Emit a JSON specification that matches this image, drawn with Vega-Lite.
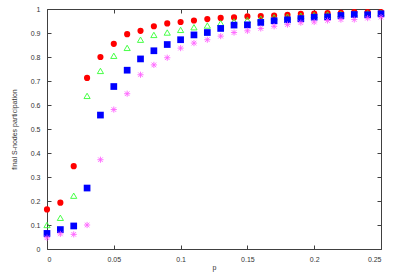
{
  "$schema": "https://vega.github.io/schema/vega-lite/v6.json",
  "width": 334,
  "height": 240,
  "autosize": "none",
  "padding": {"left": 47, "top": 9, "right": 12, "bottom": 26},
  "background": "white",
  "config": {
    "view": {"stroke": "#404040", "strokeWidth": 1},
    "axis": {
      "grid": false,
      "domain": false,
      "tickColor": "#404040",
      "tickSize": -4,
      "labelFont": "Liberation Sans",
      "labelFontSize": 7,
      "labelColor": "#333333",
      "titleFont": "Liberation Sans",
      "titleFontSize": 7,
      "titleFontWeight": "normal",
      "titleColor": "#333333"
    }
  },
  "data": {
    "values": [
      {"p": 0.00, "r": 0.165, "g": 0.100, "b": 0.065, "m": 0.047},
      {"p": 0.01, "r": 0.193, "g": 0.130, "b": 0.081, "m": 0.063},
      {"p": 0.02, "r": 0.345, "g": 0.222, "b": 0.096, "m": 0.061},
      {"p": 0.03, "r": 0.713, "g": 0.638, "b": 0.254, "m": 0.100},
      {"p": 0.04, "r": 0.800, "g": 0.742, "b": 0.558, "m": 0.372},
      {"p": 0.05, "r": 0.855, "g": 0.805, "b": 0.677, "m": 0.581},
      {"p": 0.06, "r": 0.895, "g": 0.838, "b": 0.745, "m": 0.647},
      {"p": 0.07, "r": 0.909, "g": 0.872, "b": 0.792, "m": 0.726},
      {"p": 0.08, "r": 0.928, "g": 0.892, "b": 0.826, "m": 0.767},
      {"p": 0.09, "r": 0.940, "g": 0.902, "b": 0.852, "m": 0.797},
      {"p": 0.10, "r": 0.946, "g": 0.913, "b": 0.872, "m": 0.837},
      {"p": 0.11, "r": 0.952, "g": 0.924, "b": 0.892, "m": 0.858},
      {"p": 0.12, "r": 0.958, "g": 0.931, "b": 0.902, "m": 0.872},
      {"p": 0.13, "r": 0.963, "g": 0.941, "b": 0.919, "m": 0.887},
      {"p": 0.14, "r": 0.965, "g": 0.948, "b": 0.933, "m": 0.902},
      {"p": 0.15, "r": 0.969, "g": 0.954, "b": 0.934, "m": 0.909},
      {"p": 0.16, "r": 0.971, "g": 0.960, "b": 0.944, "m": 0.919},
      {"p": 0.17, "r": 0.973, "g": 0.965, "b": 0.951, "m": 0.928},
      {"p": 0.18, "r": 0.976, "g": 0.968, "b": 0.955, "m": 0.935},
      {"p": 0.19, "r": 0.980, "g": 0.972, "b": 0.960, "m": 0.943},
      {"p": 0.20, "r": 0.981, "g": 0.975, "b": 0.966, "m": 0.946},
      {"p": 0.21, "r": 0.983, "g": 0.977, "b": 0.967, "m": 0.952},
      {"p": 0.22, "r": 0.984, "g": 0.979, "b": 0.973, "m": 0.956},
      {"p": 0.23, "r": 0.987, "g": 0.981, "b": 0.977, "m": 0.956},
      {"p": 0.24, "r": 0.987, "g": 0.982, "b": 0.976, "m": 0.962},
      {"p": 0.25, "r": 0.987, "g": 0.984, "b": 0.980, "m": 0.966}
    ]
  },
  "resolve": {"axis": {"x": "independent", "y": "independent"}},
  "layer": [
    {
      "mark": {"type": "point", "shape": "circle", "filled": true, "color": "#ff0000", "size": 38, "opacity": 1},
      "encoding": {
        "x": {"field": "p", "type": "quantitative", "scale": {"domain": [0, 0.25], "nice": false},
              "axis": {"orient": "bottom", "values": [0, 0.05, 0.1, 0.15, 0.2, 0.25], "format": "~g", "title": "p", "labelPadding": 10, "titlePadding": 1}},
        "y": {"field": "r", "type": "quantitative", "scale": {"domain": [0, 1], "nice": false, "zero": true},
              "axis": {"orient": "left", "values": [0, 0.1, 0.2, 0.3, 0.4, 0.5, 0.6, 0.7, 0.8, 0.9, 1], "format": "~g", "title": "final S-nodes participation", "labelPadding": 11, "titlePadding": 13}}
      }
    },
    {
      "mark": {"type": "point", "shape": "triangle-up", "filled": false, "color": "#33ff33", "size": 38, "strokeWidth": 0.9, "opacity": 1},
      "encoding": {
        "x": {"field": "p", "type": "quantitative",
              "axis": {"orient": "top", "values": [0, 0.05, 0.1, 0.15, 0.2, 0.25], "labels": false, "title": null}},
        "y": {"field": "g", "type": "quantitative",
              "axis": {"orient": "right", "values": [0, 0.1, 0.2, 0.3, 0.4, 0.5, 0.6, 0.7, 0.8, 0.9, 1], "labels": false, "title": null}}
      }
    },
    {
      "mark": {"type": "point", "shape": "square", "filled": true, "color": "#0000ff", "size": 45, "opacity": 1},
      "encoding": {
        "x": {"field": "p", "type": "quantitative", "axis": null},
        "y": {"field": "b", "type": "quantitative", "axis": null}
      }
    },
    {
      "mark": {"type": "point", "shape": "M-1,0L1,0M0,-1L0,1M-0.75,-0.75L0.75,0.75M-0.75,0.75L0.75,-0.75", "filled": false, "color": "#ff55ff", "size": 38, "strokeWidth": 0.9, "opacity": 0.9},
      "encoding": {
        "x": {"field": "p", "type": "quantitative", "axis": null},
        "y": {"field": "m", "type": "quantitative", "axis": null}
      }
    }
  ]
}
